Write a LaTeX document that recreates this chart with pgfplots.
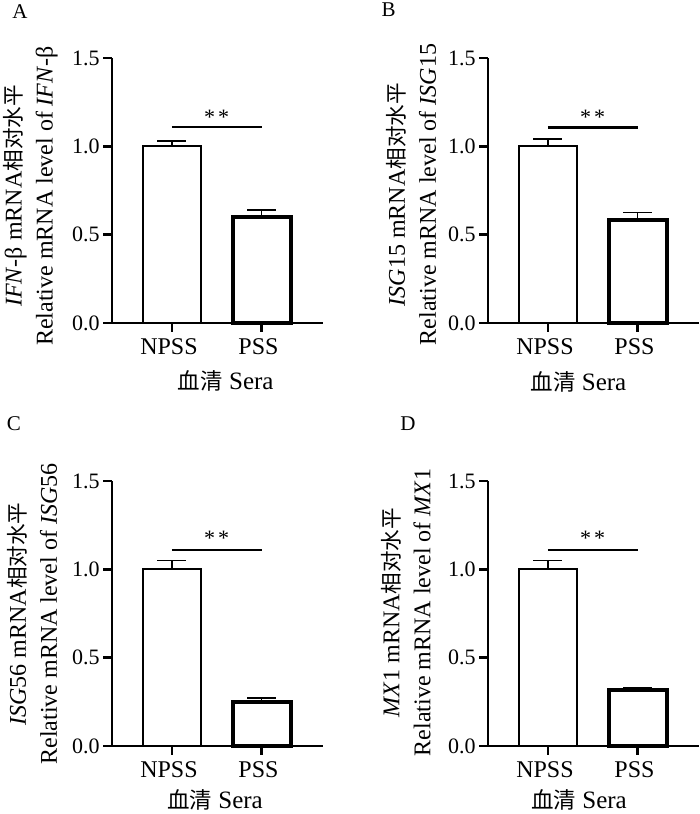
\documentclass[border=0pt]{standalone}
\usepackage{fontspec}
\setmainfont{Liberation Serif}
\newfontfamily\cjk[Scale=0.9]{Noto Sans CJK SC}
\usepackage{pgfplots}
\pgfplotsset{compat=1.18}

\pgfplotsset{
  panel/.style={
    scale only axis, width=105.5pt, height=132.5pt,
    anchor=south west,
    axis lines*=left,
    axis line style={line width=1.3pt, black},
    xmin=-0.67, xmax=1.687, ymin=0, ymax=1.5,
    xtick={0,1}, xticklabels={NPSS,PSS},
    ytick={0,0.5,1,1.5}, yticklabels={0.0,0.5,1.0,1.5},
    tick align=outside,
    major tick length=4.5pt,
    tick style={line width=1.3pt, black},
    xticklabel style={font=\fontsize{12}{14}\selectfont, xshift=-1.5pt},
    yticklabel style={font=\fontsize{11}{13}\selectfont, inner xsep=1.5pt},
    clip=false,
  },
  npss/.style={ybar, bar width=29pt, bar shift=0pt, draw=black, fill=white, line width=1.15pt,
    error bars/.cd, y dir=plus, y explicit,
    error bar style={line width=0.9pt, black},
    error mark options={rotate=90, mark size=7.25pt, line width=0.9pt, black}},
  pss/.style={ybar, bar width=29pt, bar shift=0pt, draw=black, fill=white, line width=2pt,
    error bars/.cd, y dir=plus, y explicit,
    error bar style={line width=0.9pt, black},
    error mark options={rotate=90, mark size=7.25pt, line width=0.9pt, black}},
  sig/.style={line width=1.3pt, black, no marks},
}
\tikzset{stars/.style={font=\fontsize{11}{13}\selectfont}}

\begin{document}
\begin{tikzpicture}
\path[use as bounding box] (0,0) rectangle (350pt,407pt);

% Panel A
\begin{axis}[panel, at={(56pt,245.5pt)}]
\addplot[npss] coordinates {(0,1.00) +- (0,0.03)};
\addplot[pss] coordinates {(1,0.60) +- (0,0.04)};
\addplot[sig] coordinates {(0,1.11) (1,1.11)};
\node[stars] at (axis cs:0.5,1.165) {*\kern1.5pt*};
\end{axis}

% Panel B
\begin{axis}[panel, at={(244pt,245.5pt)}]
\addplot[npss] coordinates {(0,1.00) +- (0,0.04)};
\addplot[pss] coordinates {(1,0.585) +- (0,0.04)};
\addplot[sig] coordinates {(0,1.107) (1,1.107)};
\node[stars] at (axis cs:0.5,1.165) {*\kern1.5pt*};
\end{axis}

% Panel C
\begin{axis}[panel, at={(56pt,34pt)}]
\addplot[npss] coordinates {(0,1.00) +- (0,0.05)};
\addplot[pss] coordinates {(1,0.25) +- (0,0.02)};
\addplot[sig] coordinates {(0,1.11) (1,1.11)};
\node[stars] at (axis cs:0.5,1.175) {*\kern1.5pt*};
\end{axis}

% Panel D
\begin{axis}[panel, at={(244pt,34pt)}]
\addplot[npss] coordinates {(0,1.00) +- (0,0.05)};
\addplot[pss] coordinates {(1,0.315) +- (0,0.015)};
\addplot[sig] coordinates {(0,1.11) (1,1.11)};
\node[stars] at (axis cs:0.5,1.175) {*\kern1.5pt*};
\end{axis}

% Panel letters
\node[font=\fontsize{10.5}{12}\selectfont] at (10pt,401.25pt) {A};
\node[font=\fontsize{10.5}{12}\selectfont] at (194.25pt,402pt) {B};
\node[font=\fontsize{10.5}{12}\selectfont] at (7pt,195.25pt) {C};
\node[font=\fontsize{10.5}{12}\selectfont] at (204pt,195pt) {D};

% Y labels
\node[rotate=90, align=center, font=\fontsize{12}{15.5}\selectfont, inner sep=0pt] at (15.25pt,309pt)
  {\textit{IFN}-β mRNA{\cjk 相对水平}\\Relative mRNA level of \textit{IFN}-β};
\node[rotate=90, align=center, font=\fontsize{12}{15.5}\selectfont, inner sep=0pt] at (205.75pt,309.75pt)
  {\textit{ISG}15 mRNA{\cjk 相对水平}\\Relative mRNA level of \textit{ISG}15};
\node[rotate=90, align=center, font=\fontsize{12}{15.5}\selectfont, inner sep=0pt] at (16.25pt,100pt)
  {\textit{ISG}56 mRNA{\cjk 相对水平}\\Relative mRNA level of \textit{ISG}56};
\node[rotate=90, align=center, font=\fontsize{12}{15.5}\selectfont, inner sep=0pt] at (203pt,100.75pt)
  {\textit{MX}1 mRNA{\cjk 相对水平}\\Relative mRNA level of \textit{MX}1};

% X labels
\node[font=\fontsize{12.5}{14}\selectfont, inner sep=0pt] at (112.85pt,216.5pt) {{\cjk 血清} Sera};
\node[font=\fontsize{12.5}{14}\selectfont, inner sep=0pt] at (289.25pt,216.25pt) {{\cjk 血清} Sera};
\node[font=\fontsize{12.5}{14}\selectfont, inner sep=0pt] at (107.5pt,7pt) {{\cjk 血清} Sera};
\node[font=\fontsize{12.5}{14}\selectfont, inner sep=0pt] at (289.5pt,7pt) {{\cjk 血清} Sera};
\end{tikzpicture}
\end{document}
